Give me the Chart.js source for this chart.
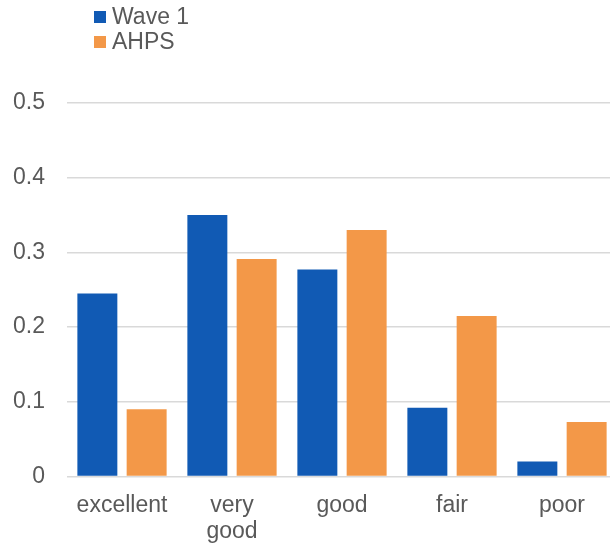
<!DOCTYPE html>
<html>
<head>
<meta charset="utf-8">
<script src="https://cdn.jsdelivr.net/npm/chart.js@4/dist/chart.umd.min.js"></script>
<style>
  html, body { margin: 0; padding: 0; background: #ffffff; overflow: hidden; }
  #wrap { width: 610px; height: 549px; overflow: hidden; position: relative; }
  canvas { display: block; }
</style>
</head>
<body>
<div id="wrap"><canvas id="c" width="617" height="549"></canvas></div>
<script>
// Self-rated health: share of respondents in each category
const categories = ['excellent', ['very', 'good'], 'good', 'fair', 'poor'];
const seriesNames = ['Wave 1', 'AHPS'];
const wave1 = [0.245, 0.350, 0.277, 0.092, 0.020];
const ahps = [0.090, 0.291, 0.330, 0.215, 0.073];
const yTickLabels = ['0', '0.1', '0.2', '0.3', '0.4', '0.5'];

const BLUE = '#115AB4';
const ORANGE = '#F39848';
const TEXT = '#595959';
const FONT = "'Liberation Sans', Arial, sans-serif";

// Stacked (one item per row) legend in the top-left corner
const columnLegend = {
  id: 'columnLegend',
  afterDraw(chart) {
    const ctx = chart.ctx;
    ctx.save();
    ctx.font = '23px ' + FONT;
    ctx.textBaseline = 'middle';
    ctx.textAlign = 'left';
    chart.data.datasets.forEach((ds, i) => {
      const cy = 17 + i * 25;
      ctx.fillStyle = ds.backgroundColor;
      ctx.fillRect(94, cy - 6, 12, 12);
      ctx.fillStyle = TEXT;
      ctx.fillText(ds.label, 112, cy + 1);
    });
    ctx.restore();
  }
};

new Chart(document.getElementById('c'), {
  type: 'bar',
  data: {
    labels: categories,
    datasets: [
      { label: seriesNames[0], data: wave1, backgroundColor: BLUE },
      { label: seriesNames[1], data: ahps, backgroundColor: ORANGE }
    ]
  },
  options: {
    responsive: false,
    animation: false,
    devicePixelRatio: 1,
    layout: { padding: { top: 103, left: 0, right: 0, bottom: 0 } },
    datasets: {
      bar: { categoryPercentage: 0.896, barPercentage: 0.811 }
    },
    plugins: {
      legend: { display: false },
      tooltip: { enabled: false }
    },
    scales: {
      x: {
        grid: { display: false, drawTicks: false },
        border: { display: false },
        ticks: {
          color: TEXT,
          font: { family: FONT, size: 23, lineHeight: 1.16 },
          padding: 15.5,
          maxRotation: 0,
          autoSkip: false
        },
        afterFit(scale) { scale.height = 72.5; }
      },
      y: {
        min: 0,
        max: 0.5,
        grid: { color: '#d9d9d9', lineWidth: 1.5, drawTicks: false },
        border: { display: false },
        ticks: {
          stepSize: 0.1,
          color: TEXT,
          font: { family: FONT, size: 23 },
          padding: 22,
          callback: (v, i) => yTickLabels[i]
        },
        afterFit(scale) { scale.width = 67; }
      }
    }
  },
  plugins: [columnLegend]
});
</script>
</body>
</html>
